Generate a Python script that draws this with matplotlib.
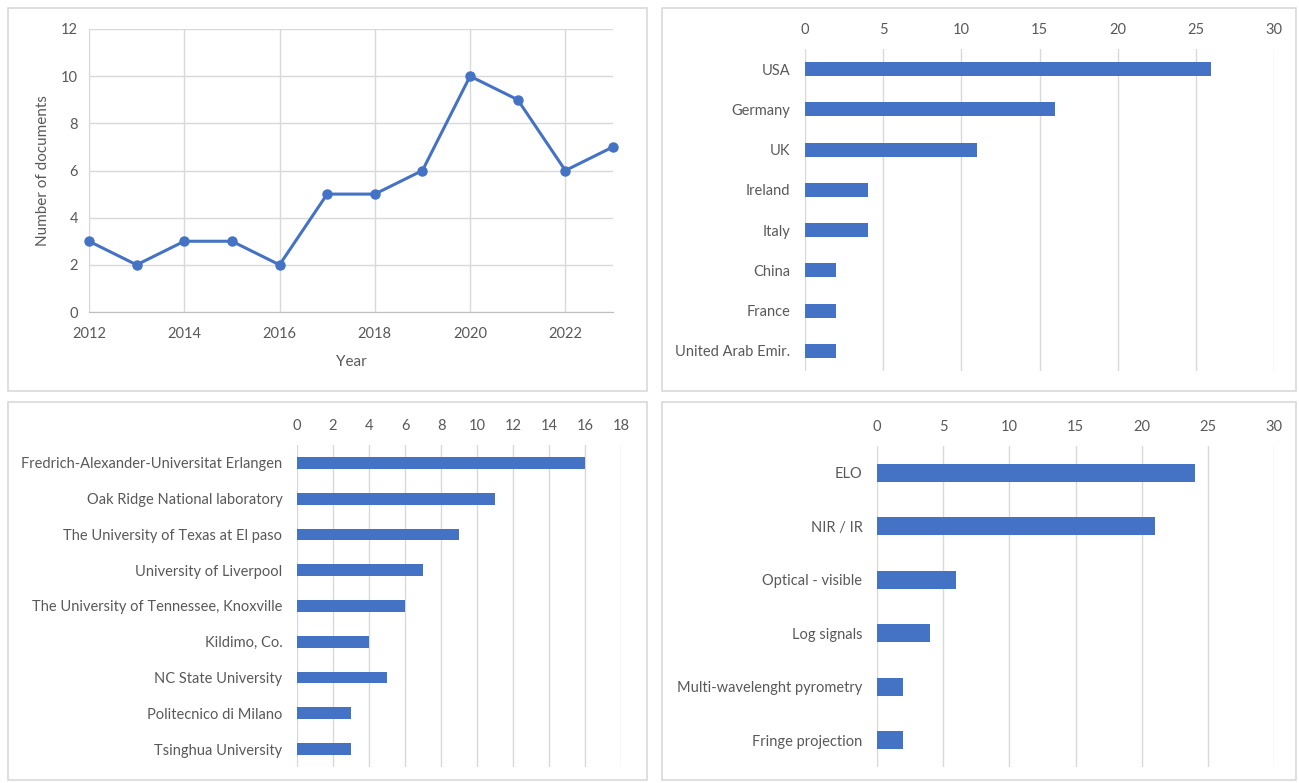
import matplotlib.pyplot as plt
from matplotlib.patches import Rectangle

# Data
years = [2012, 2013, 2014, 2015, 2016, 2017, 2018, 2019, 2020, 2021, 2022, 2023]
documents = [3, 2, 3, 3, 2, 5, 5, 6, 10, 9, 6, 7]

countries = ['USA', 'Germany', 'UK', 'Ireland', 'Italy', 'China', 'France', 'United Arab Emir.']
country_docs = [26, 16, 11, 4, 4, 2, 2, 2]

institutions = ['Fredrich-Alexander-Universitat Erlangen', 'Oak Ridge National laboratory',
                'The University of Texas at El paso', 'University of Liverpool',
                'The University of Tennessee, Knoxville', 'Kildimo, Co.', 'NC State University',
                'Politecnico di Milano', 'Tsinghua University']
institution_docs = [16, 11, 9, 7, 6, 4, 5, 3, 3]

techniques = ['ELO', 'NIR / IR', 'Optical - visible', 'Log signals',
              'Multi-wavelenght pyrometry', 'Fringe projection']
technique_docs = [24, 21, 6, 4, 2, 2]

BLUE = '#4472C4'
TEXT = '#595959'
GRID = '#D9D9D9'

plt.rcParams['font.family'] = ['Lato', 'DejaVu Sans']
plt.rcParams['font.size'] = 10

W, H = 1299, 783
fig = plt.figure(figsize=(W / 100, H / 100), dpi=100)


def px_axes(x0, y0, x1, y1):
    # axes from pixel box (top-left origin)
    return fig.add_axes([x0 / W, 1 - y1 / H, (x1 - x0) / W, (y1 - y0) / H])


# panel frames
for (x0, y0, x1, y1) in [(8, 8, 647, 391), (662, 8, 1296, 391),
                         (8, 402, 647, 780), (662, 402, 1296, 780)]:
    fig.patches.append(Rectangle((x0 / W, 1 - y1 / H), (x1 - x0) / W, (y1 - y0) / H,
                                 transform=fig.transFigure, fill=False,
                                 edgecolor=GRID, linewidth=1.2))

# line chart
ax = px_axes(89, 29, 613, 312)
ax.plot(years, documents, color=BLUE, linewidth=2.2, marker='o', markersize=6.5,
        clip_on=False, zorder=3)
ax.set_xlim(2012, 2023)
ax.set_ylim(0, 12)
ax.set_xticks(range(2012, 2023, 2))
ax.set_yticks(range(0, 13, 2))
ax.grid(True, color=GRID, linewidth=1)
ax.set_axisbelow(True)
for s in ['top', 'right']:
    ax.spines[s].set_visible(False)
ax.spines['left'].set_color(GRID)
ax.spines['bottom'].set_color('#BFBFBF')
ax.tick_params(length=0, colors=TEXT, labelsize=10.5, pad=8)
ax.tick_params(axis='x', pad=11)
ax.set_xlabel('Year', color=TEXT, fontsize=11, labelpad=10)
ax.set_ylabel('Number of documents', color=TEXT, fontsize=11, labelpad=8)


def hbar(box, labels, values, xmax, step, height):
    a = px_axes(*box)
    pos = list(range(len(labels)))
    a.barh(pos, values, height=height, color=BLUE)
    a.set_yticks(pos)
    a.set_yticklabels(labels)
    a.set_ylim(len(labels) - 0.5, -0.5)
    a.set_xlim(0, xmax)
    a.set_xticks(range(0, xmax + 1, step))
    a.xaxis.tick_top()
    a.grid(True, axis='x', color=GRID, linewidth=1)
    a.set_axisbelow(True)
    for s in a.spines.values():
        s.set_visible(False)
    a.tick_params(length=0, colors=TEXT, labelsize=10.5)
    a.tick_params(axis='x', pad=8.5)
    a.tick_params(axis='y', pad=10.5)
    return a


hbar((805, 49, 1274, 371), countries, country_docs, 30, 5, 0.35)
hbar((297, 445, 621, 767), institutions, institution_docs, 18, 2, 0.33)
hbar((877, 446, 1274, 767), techniques, technique_docs, 30, 5, 0.34)

fig.savefig('out.png', dpi=100, facecolor='white')
